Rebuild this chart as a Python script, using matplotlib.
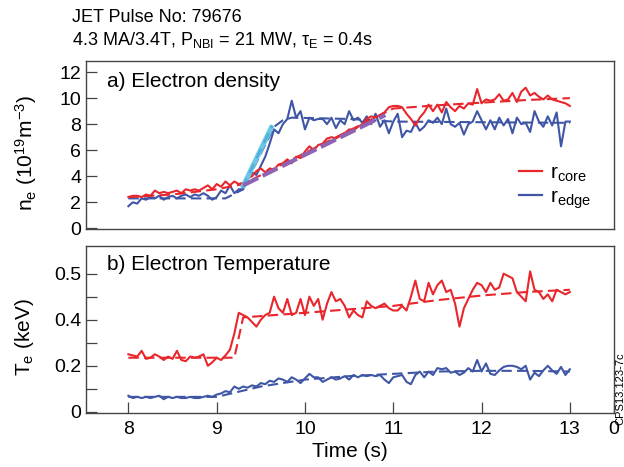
import matplotlib
matplotlib.use("Agg")
import matplotlib.pyplot as plt
from matplotlib.lines import Line2D

plt.rcParams['font.family'] = ['Liberation Sans', 'DejaVu Sans']
plt.rcParams['mathtext.fontset'] = 'custom'
plt.rcParams['mathtext.rm'] = 'Liberation Sans'
plt.rcParams['mathtext.it'] = 'Liberation Sans:italic'

# ---------------- data ----------------
time = [8.00 + 0.05 * i for i in range(101)]

ne_core = [2.4, 2.5, 2.5, 2.4, 2.6, 2.5, 2.9, 2.7, 2.8, 2.7,
           2.8, 2.9, 2.7, 3.0, 2.9, 3.0, 2.9, 3.1, 3.3, 3.0,
           3.4, 3.2, 3.6, 3.3, 3.6, 3.4, 3.5, 3.9, 4.0, 4.4,
           4.6, 4.3, 4.6, 4.5, 4.9, 5.0, 5.3, 5.0, 5.5, 5.4,
           5.9, 6.3, 6.0, 6.4, 6.5, 6.9, 7.0, 6.9, 7.1, 7.3,
           7.6, 7.5, 7.8, 8.0, 8.4, 8.6, 8.5, 8.7, 8.9, 9.3,
           9.4, 9.4, 9.3, 8.8, 8.4, 7.9, 8.5, 8.9, 9.5, 9.0,
           9.5, 8.9, 9.7, 9.3, 9.0, 9.4, 9.2, 9.6, 9.5, 10.7,
           9.6, 9.9, 9.8, 9.9, 10.3, 9.8, 9.9, 10.4, 9.7, 10.5,
           10.8, 10.2, 10.4, 10.1, 9.9, 10.2, 9.9, 9.8, 9.7, 9.6,
           9.4]

ne_edge = [1.7, 2.0, 1.9, 2.3, 2.2, 2.4, 2.3, 2.5, 2.2, 2.4,
           2.5, 2.3, 2.5, 2.6, 2.4, 2.6, 2.5, 2.7, 2.5, 2.2,
           2.4, 2.9, 2.7, 3.3, 2.7, 3.0, 3.0, 3.8, 4.3, 4.1,
           4.8, 5.5, 6.5, 7.6, 7.3, 8.0, 8.4, 9.8, 8.5, 9.0,
           7.6, 8.5, 8.3, 8.4, 8.4, 8.0, 8.5, 7.7, 8.3, 8.0,
           9.0, 8.3, 8.5, 8.1, 8.6, 8.0, 8.8, 7.8, 8.3, 7.3,
           8.2, 8.8, 7.0, 7.5, 7.4, 8.1, 7.5, 7.8, 8.3, 8.1,
           8.5, 8.0, 9.2, 8.0, 7.8, 8.1, 7.2, 8.0, 8.2, 9.0,
           8.3, 7.6, 8.3, 7.6, 8.5, 7.9, 8.4, 7.3, 8.5, 8.0,
           8.1, 7.4, 9.0, 8.2, 7.8, 8.6, 7.9, 8.9, 6.3, 8.2,
           8.2]

ne_core_fit_t = [8.0, 8.5, 9.0, 9.3, 10.85, 11.0, 11.5, 12.0, 12.5, 13.0]
ne_core_fit = [2.4, 2.6, 3.0, 3.4, 8.7, 9.2, 9.45, 9.65, 9.85, 10.0]

ne_edge_fit_t = [8.0, 9.1, 9.3, 9.65, 9.75, 9.85, 10.5, 11.0, 13.0]
ne_edge_fit = [2.3, 2.3, 3.0, 7.8, 8.3, 8.5, 8.4, 8.2, 8.1]

ramp_edge_t = [9.29, 9.63]
ramp_edge = [3.1, 7.9]
ramp_core_t = [9.30, 10.91]
ramp_core = [3.3, 8.7]

te_core = [0.25, 0.245, 0.24, 0.265, 0.23, 0.235, 0.25, 0.24, 0.225, 0.24,
           0.23, 0.265, 0.225, 0.22, 0.24, 0.235, 0.24, 0.25, 0.20, 0.215,
           0.235, 0.225, 0.245, 0.27, 0.34, 0.43, 0.42, 0.41, 0.39, 0.37,
           0.40, 0.42, 0.43, 0.50, 0.45, 0.43, 0.49, 0.42, 0.43, 0.49,
           0.42, 0.50, 0.46, 0.49, 0.40, 0.47, 0.52, 0.48, 0.49, 0.46,
           0.41, 0.44, 0.42, 0.41, 0.48, 0.46, 0.45, 0.46, 0.47, 0.45,
           0.44, 0.44, 0.46, 0.44, 0.50, 0.57, 0.49, 0.48, 0.56, 0.51,
           0.55, 0.57, 0.52, 0.53, 0.47, 0.37, 0.45, 0.49, 0.53, 0.56,
           0.55, 0.52, 0.56, 0.53, 0.54, 0.60, 0.59, 0.58, 0.52, 0.50,
           0.48, 0.61, 0.53, 0.52, 0.49, 0.51, 0.48, 0.53, 0.52, 0.51,
           0.52]

te_edge = [0.07, 0.06, 0.065, 0.06, 0.065, 0.06, 0.065, 0.07, 0.055, 0.065,
           0.06, 0.065, 0.06, 0.06, 0.065, 0.06, 0.06, 0.065, 0.07, 0.065,
           0.075, 0.08, 0.09, 0.085, 0.11, 0.10, 0.11, 0.105, 0.115, 0.11,
           0.125, 0.12, 0.135, 0.13, 0.145, 0.14, 0.13, 0.15, 0.14, 0.125,
           0.145, 0.165, 0.15, 0.15, 0.13, 0.14, 0.15, 0.14, 0.145, 0.155,
           0.14, 0.16, 0.15, 0.16, 0.155, 0.16, 0.155, 0.16, 0.14, 0.125,
           0.15, 0.155, 0.16, 0.13, 0.12, 0.16, 0.175, 0.15, 0.175, 0.16,
           0.19, 0.185, 0.19, 0.17, 0.175, 0.16, 0.17, 0.19, 0.175, 0.225,
           0.175, 0.21, 0.165, 0.16, 0.18, 0.195, 0.20, 0.20, 0.195, 0.185,
           0.20, 0.14, 0.17, 0.155, 0.18, 0.20, 0.18, 0.165, 0.195, 0.16,
           0.185]

te_core_fit_t = [8.0, 9.2, 9.3, 10.0, 10.5, 11.0, 11.5, 12.0, 12.5, 13.0]
te_core_fit = [0.235, 0.235, 0.41, 0.43, 0.445, 0.46, 0.485, 0.505, 0.52, 0.53]

te_edge_fit_t = [8.0, 9.0, 9.5, 10.0, 10.5, 11.0, 11.5, 12.0, 12.5, 13.0]
te_edge_fit = [0.065, 0.065, 0.11, 0.14, 0.155, 0.165, 0.175, 0.178, 0.178, 0.175]

x_ticks = [8, 9, 10, 11, 12, 13]
ne_ticks = [0, 2, 4, 6, 8, 10, 12]
te_tick_pos = [0, 0.2, 0.4, 0.6]
te_tick_labels = ['0', '0.2', '0.4', '0.5']

# ---------------- style ----------------
RED = '#E8262C'
BLUE = '#3F56A6'
CYAN = '#6CC6E6'
PURPLE = '#8E63B3'
SPINE = '#444444'

W, H = 624, 467
fig = plt.figure(figsize=(W / 100, H / 100), dpi=100)

def axrect(l, t, r, b):
    return [l / W, 1 - b / H, (r - l) / W, (b - t) / H]

axa = fig.add_axes(axrect(86, 61, 614, 229))
axb = fig.add_axes(axrect(86, 246, 614, 413))

for ax in (axa, axb):
    for s in ax.spines.values():
        s.set_color(SPINE)
        s.set_linewidth(1.0)
    ax.set_xlim(7.52, 13.5)
    ax.tick_params(direction='in', length=8, width=0.9, color=SPINE,
                   labelsize=14, top=False, right=False)
    ax.tick_params(which='minor', direction='in', length=8, width=0.9, color=SPINE)

lw = 1.5
dash = (0, (5, 2.5))

# panel a
axa.plot(ne_edge_fit_t, ne_edge_fit, color=BLUE, lw=lw, ls=dash)
axa.plot(time, ne_edge, color=BLUE, lw=lw)
axa.plot(ne_core_fit_t, ne_core_fit, color=RED, lw=lw, ls=dash)
axa.plot(time, ne_core, color=RED, lw=lw)
axa.plot(ramp_edge_t, ramp_edge, color=CYAN, lw=3.6, solid_capstyle='butt')
axa.plot(ramp_edge_t, ramp_edge, color='#4AAED8', lw=1.5, ls=(0, (5, 3)))
axa.plot(ramp_core_t, ramp_core, color=PURPLE, lw=3.0, ls=(0, (4, 1.2)))
axa.set_ylim(-0.05, 12.85)
axa.set_yticks(ne_ticks)
axa.set_xticks([])
axa.text(0.04, 0.845, 'a) Electron density', transform=axa.transAxes,
         fontsize=15, va='baseline', ha='left')

handles = [Line2D([], [], color=RED, lw=1.6), Line2D([], [], color=BLUE, lw=1.6)]
axa.legend(handles, [r'r$_\mathregular{core}$', r'r$_\mathregular{edge}$'],
           loc='lower right', bbox_to_anchor=(0.985, 0.02), frameon=False,
           fontsize=15, handlelength=1.1, handletextpad=0.4, labelspacing=0.2,
           borderpad=0.2)

# panel b
axb.plot(te_edge_fit_t, te_edge_fit, color=BLUE, lw=lw, ls=dash)
axb.plot(time, te_edge, color=BLUE, lw=lw)
axb.plot(te_core_fit_t, te_core_fit, color=RED, lw=lw, ls=dash)
axb.plot(time, te_core, color=RED, lw=lw)
axb.set_ylim(-0.005, 0.72)
axb.set_yticks(te_tick_pos)
axb.set_yticklabels(te_tick_labels)
axb.set_yticks([0.1, 0.3, 0.5], minor=True)
axb.set_xticks(x_ticks + [13.5])
axb.set_xticklabels([str(v) for v in x_ticks] + ['0'])
axb.tick_params(axis='x', pad=6)
axb.text(0.04, 0.856, 'b) Electron Temperature', transform=axb.transAxes,
         fontsize=15, va='baseline', ha='left')

# labels
fig.text(26 / W, 1 - 153 / H, r'n$_\mathregular{e}$ (10$^\mathregular{19}$m$^\mathregular{-3}$)',
         rotation=90, ha='center', va='center', fontsize=15)
fig.text(24 / W, 1 - 337 / H, r'T$_\mathregular{e}$ (keV)',
         rotation=90, ha='center', va='center', fontsize=15)
fig.text(350 / W, 1 - 457 / H, 'Time (s)', ha='center', va='baseline', fontsize=15)

fig.text(72 / W, 1 - 22 / H, 'JET Pulse No: 79676', fontsize=13, va='baseline')
fig.text(72 / W, 1 - 45 / H,
         r'4.3 MA/3.4T, P$_\mathregular{NBI}$ = 21 MW, τ$_\mathregular{E}$ = 0.4s',
         fontsize=13, va='baseline')

fig.text(615 / W, 1 - 425 / H, 'CPS13.123-7c', rotation=90, fontsize=8,
         ha='left', va='bottom')

fig.savefig('out.png', dpi=100)
